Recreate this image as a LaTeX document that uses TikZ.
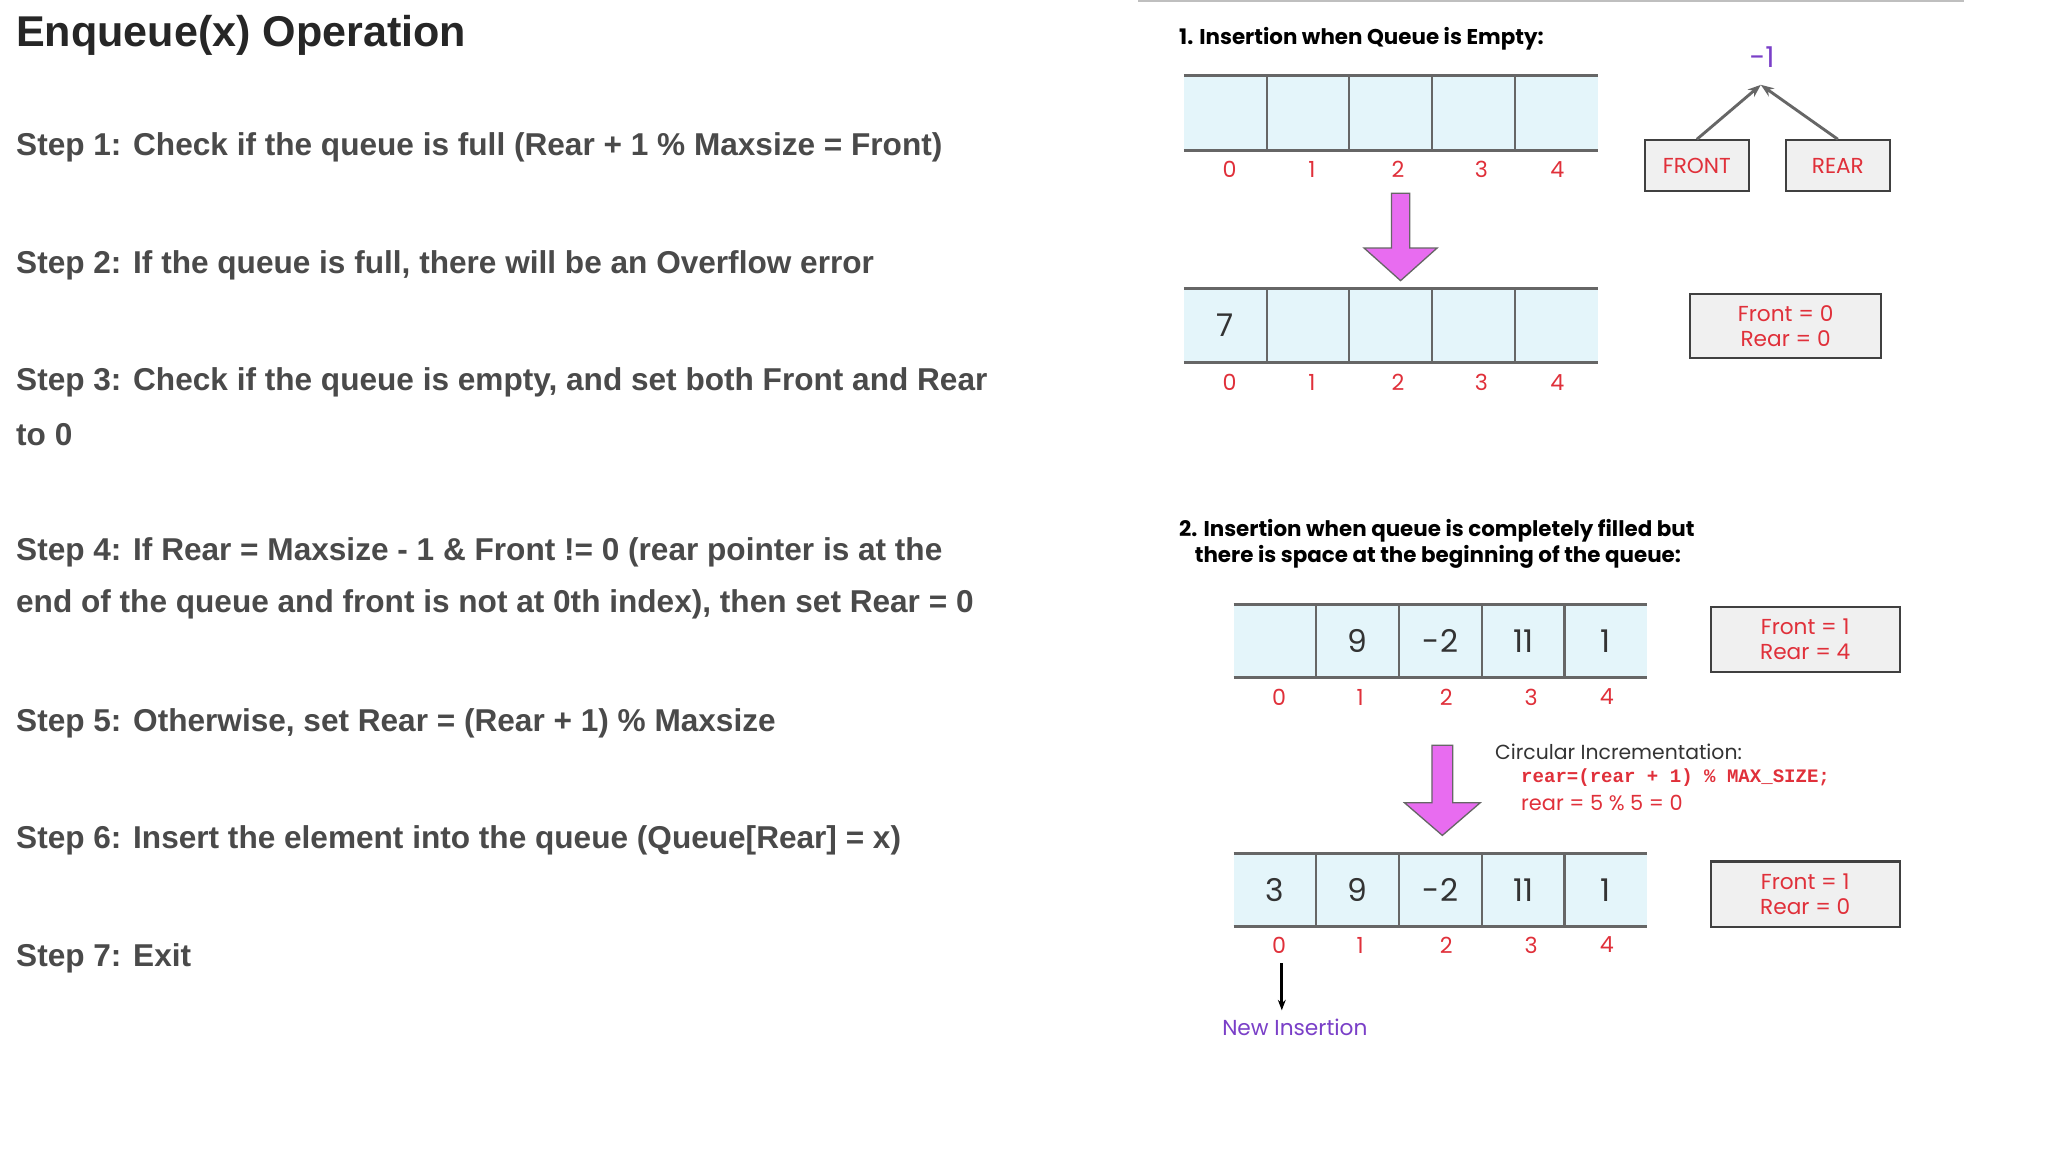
\documentclass[tikz,border=0pt]{standalone}
\usepackage{fontspec}
\setmainfont{Liberation Sans}
\newfontfamily\pop{Poppins}
\newfontfamily\mono{Liberation Mono}
\usetikzlibrary{arrows.meta}
\definecolor{cellblue}{HTML}{E4F5FA}
\definecolor{idxred}{HTML}{E0303A}
\definecolor{steptxt}{HTML}{4A4A4A}
\definecolor{mag}{HTML}{E86CF0}
\definecolor{purp}{HTML}{7A3FC8}
\definecolor{boxgray}{HTML}{F0F0F0}
\tikzset{
  steptext/.style={anchor=west,text=steptxt,font=\fontsize{12.1}{15}\selectfont\bfseries,inner sep=0},
  head/.style={anchor=west,font=\pop\fontsize{8.2}{10}\selectfont\bfseries,inner sep=0,align=left},
  idx/.style={text=idxred,font=\pop\fontsize{8.5}{10}\selectfont},
  val/.style={text=black!80,font=\pop\fontsize{12}{14}\selectfont},
  infobox/.style={draw=black!75,fill=boxgray,line width=0.8pt,text=idxred,font=\pop\fontsize{8.3}{9.5}\selectfont,align=center},
  bigarrow/.style={fill=mag,draw=black!60,line width=0.5pt},
}
\newcommand{\qarr}[5]{% x0, ytop, ybot, yidx, values
  \fill[cellblue] (#1,#2) rectangle ++(317,#3-#2);
  \draw[black!60,line width=1.2pt] (#1,#2) -- ++(317,0) (#1,#3) -- ++(317,0);
  \foreach \k in {1,...,4} \draw[black!60,line width=0.8pt] ({#1+63.4*\k},#2) -- ({#1+63.4*\k},#3);
  \foreach \v [count=\k from 0] in {#5} \node[val] at ({#1+31.7+63.4*\k},{(#2+#3)/2}) {\v};
}
\begin{document}
\begin{tikzpicture}[x=0.5pt,y=-0.5pt]
\useasboundingbox (0,0) rectangle (1569,882.6);
\fill[white] (0,0) rectangle (1569,882.6);
% left
\node[anchor=west,text=black!85,font=\fontsize{16.5}{19}\selectfont\bfseries,inner sep=0] (title) at (12,27) {Enqueue(x) Operation};
\node[steptext] (s1) at (12,113) {Step 1: Check if the queue is full (Rear + 1 \% Maxsize = Front)};
\node[steptext] (s2) at (12,203) {Step 2: If the queue is full, there will be an Overflow error};
\node[steptext] (s3) at (12,293) {Step 3: Check if the queue is empty, and set both Front and Rear};
\node[steptext] (s3b) at (12,333) {to 0};
\node[steptext] (s4) at (12,423) {Step 4: If Rear = Maxsize - 1 \& Front != 0 (rear pointer is at the};
\node[steptext] (s4b) at (12,463) {end of the queue and front is not at 0th index), then set Rear = 0};
\node[steptext] (s5) at (12,554) {Step 5: Otherwise, set Rear = (Rear + 1) \% Maxsize};
\node[steptext] (s6) at (12,644) {Step 6: Insert the element into the queue (Queue[Rear] = x)};
\node[steptext] (s7) at (12,734) {Step 7: Exit};
% right top
\draw[black!25,line width=1.5pt] (872,0) -- (1505,0);
\node[head] (h1) at (903,30) {1. Insertion when Queue is Empty:};
\qarr{907}{58}{115}{130}{{},{},{},{},{}}
\foreach \x/\t in {942/0,1005/1,1071/2,1135/3,1193/4} \node[idx] at (\x,130) {\t};
\draw[bigarrow] (1066,148) -- (1080,148) -- (1080,190) -- (1101,190) -- (1073,215) -- (1045,190) -- (1066,190) -- cycle;
\qarr{907}{221}{278}{293}{7,{},{},{},{}}
\foreach \x/\t in {942/0,1005/1,1071/2,1135/3,1193/4} \node[idx] at (\x,293) {\t};
\node[text=purp,font=\pop\fontsize{11}{12}\selectfont] (m1) at (1350,44) {-1};
\coordinate (apex) at (1349,65);
\node[infobox,minimum width=40pt,minimum height=19.5pt] (front) at (1300,127) {FRONT};
\node[infobox,minimum width=40pt,minimum height=19.5pt] (rear) at (1408,127) {REAR};
\draw[black!60,line width=1.1pt,-{Stealth[length=5pt]}] (front.north) -- (apex);
\draw[black!60,line width=1.1pt,-{Stealth[length=5pt]}] (rear.north) -- (apex);
\node[infobox,minimum width=73pt,minimum height=24.5pt] (b1) at (1368,250) {Front = 0\\Rear = 0};
% right bottom
\node[head] (h2) at (903,417) {2. Insertion when queue is completely filled but\\\hspace*{6pt}there is space at the beginning of the queue:};
\qarr{945}{463}{519}{534}{{},9,-2,11,1}
\foreach \x/\t in {980/0,1042/1,1108/2,1173/3,1231/4} \node[idx] at (\x,534) {\t};
\node[infobox,minimum width=72.5pt,minimum height=25pt] (b2) at (1383,490) {Front = 1\\Rear = 4};
\draw[bigarrow] (1097,571) -- (1113,571) -- (1113,615) -- (1134,615) -- (1105,640) -- (1076,615) -- (1097,615) -- cycle;
\node[anchor=west,inner sep=0,font=\pop\fontsize{7.8}{9}\selectfont,text=black!80] (circ) at (1145,576) {Circular Incrementation:};
\node[anchor=west,inner sep=0,font=\mono\fontsize{7.3}{9}\selectfont\bfseries,text=idxred] (code) at (1165,596) {rear=(rear + 1) \% MAX\_SIZE;};
\node[anchor=west,inner sep=0,font=\pop\fontsize{8}{9}\selectfont,text=idxred] (calc) at (1165,615) {rear = 5 \% 5 = 0};
\qarr{945}{654}{710}{724}{3,9,-2,11,1}
\foreach \x/\t in {980/0,1042/1,1108/2,1173/3,1231/4} \node[idx] (i4\t) at (\x,724) {\t};
\node[infobox,minimum width=72.5pt,minimum height=25pt] (b3) at (1383,685) {Front = 1\\Rear = 0};
\node[text=purp,font=\pop\fontsize{8.3}{10}\selectfont] (ni) at (992,787) {New Insertion};
\draw[black,line width=1.1pt,-{Stealth[length=4pt]}] (982,738) -- (982,774);
\end{tikzpicture}
\end{document}
